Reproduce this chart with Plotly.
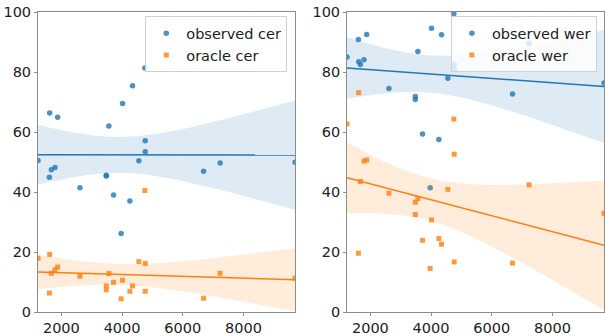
import numpy as np
import plotly.graph_objects as go

# ---- data ----
x_vals = [1230, 1605, 1615, 1670, 1790, 1878, 2612, 3480, 3480, 3566, 3720,
          3970, 4016, 4257, 4345, 4553, 4750, 4763, 4763, 6685, 7230, 9700]

observed_cer = [50.5, 44.9, 66.3, 47.4, 48.2, 64.9, 41.4, 45.6, 45.3, 62.0, 39.0,
                26.2, 69.5, 37.0, 75.4, 50.4, 81.3, 57.1, 53.4, 46.9, 49.7, 49.9]
oracle_cer = [17.9, 6.3, 19.2, 12.9, 14.1, 15.0, 11.9, 8.7, 7.4, 12.8, 9.9,
              4.4, 10.6, 6.9, 8.7, 16.8, 40.5, 16.2, 6.9, 4.6, 12.9, 11.3]

observed_wer = [85.0, 90.8, 83.4, 82.5, 84.1, 92.5, 74.5, 71.8, 70.8, 86.8, 59.3,
                41.4, 94.6, 57.5, 92.4, 77.9, 99.4, 81.0, 82.6, 72.7, 89.6, 76.3]
oracle_wer = [62.7, 19.6, 73.1, 43.5, 50.3, 50.7, 39.6, 36.6, 32.5, 37.8, 23.9,
              14.5, 30.7, 24.5, 22.6, 40.9, 64.3, 52.6, 16.7, 16.3, 42.4, 32.9]

panels = [
    ("observed cer", observed_cer, "oracle cer", oracle_cer),
    ("observed wer", observed_wer, "oracle wer", oracle_wer),
]

x_ticks = [2000, 4000, 6000, 8000]
y_ticks = [0, 20, 40, 60, 80, 100]

BLUE = "#1f77b4"
ORANGE = "#ff7f0e"
BLUE_FILL = "rgba(31,119,180,0.15)"
ORANGE_FILL = "rgba(255,127,14,0.15)"
T_CRIT = 2.086  # t(0.975, df=20)

FONT = "DejaVu Sans"


def fit_band(x, y):
    x = np.asarray(x, float)
    y = np.asarray(y, float)
    n = len(x)
    b, a = np.polyfit(x, y, 1)
    resid = y - (a + b * x)
    s = np.sqrt(np.sum(resid ** 2) / (n - 2))
    xm = x.mean()
    sxx = np.sum((x - xm) ** 2)
    grid = np.linspace(x.min(), x.max(), 100)
    yhat = a + b * grid
    se = s * np.sqrt(1.0 / n + (grid - xm) ** 2 / sxx)
    return grid, yhat, yhat - T_CRIT * se, yhat + T_CRIT * se


fig = go.Figure()

for i, (n1, y1, n2, y2) in enumerate(panels):
    xa = "x" if i == 0 else "x2"
    ya = "y" if i == 0 else "y2"
    leg = "legend" if i == 0 else "legend2"
    for name, yv, color, fill, sym in [(n1, y1, BLUE, BLUE_FILL, "circle"),
                                       (n2, y2, ORANGE, ORANGE_FILL, "square")]:
        fig.add_trace(go.Scatter(
            x=x_vals, y=yv, mode="markers", name=name,
            marker=dict(color=color, size=5.5 if sym == "circle" else 5, symbol=sym,
                        opacity=0.8, line=dict(width=0)),
            xaxis=xa, yaxis=ya, legend=leg, showlegend=True))
        g, yh, lo, hi = fit_band(x_vals, yv)
        fig.add_trace(go.Scatter(
            x=np.concatenate([g, g[::-1]]), y=np.concatenate([hi, lo[::-1]]),
            fill="toself", fillcolor=fill, line=dict(width=0), mode="lines",
            hoverinfo="skip", showlegend=False, xaxis=xa, yaxis=ya))
        fig.add_trace(go.Scatter(
            x=g, y=yh, mode="lines", line=dict(color=color, width=1.5),
            showlegend=False, xaxis=xa, yaxis=ya))

axis_common = dict(showline=True, linecolor="#8c8c8c", linewidth=1, mirror=True,
                   showgrid=False, zeroline=False, ticks="outside", ticklen=3,
                   tickcolor="#8c8c8c", tickfont=dict(family=FONT, size=14.5, color="#222"))

W = 566.7
fig.update_layout(
    width=605, height=336,
    margin=dict(l=38, r=0, t=12, b=17),
    paper_bgcolor="white", plot_bgcolor="white",
    font=dict(family=FONT, size=14.5, color="#222"),
    xaxis=dict(domain=[0, 257.4 / W], range=[1230, 9700], tickvals=x_ticks, **axis_common),
    yaxis=dict(range=[0, 100], tickvals=y_ticks, **axis_common),
    xaxis2=dict(domain=[(347.7 - 38.3) / W, 1], range=[1230, 9700], tickvals=x_ticks,
                anchor="y2", **axis_common),
    yaxis2=dict(range=[0, 100], tickvals=y_ticks, anchor="x2", **axis_common),
    legend=dict(x=0.1895, y=0.986, xanchor="left", yanchor="top",
                bgcolor="rgba(255,255,255,0.8)", bordercolor="#d0d0d0", borderwidth=1,
                font=dict(family=FONT, size=14.5, color="#222")),
    legend2=dict(x=0.7295, y=0.986, xanchor="left", yanchor="top",
                 bgcolor="rgba(255,255,255,0.8)", bordercolor="#d0d0d0", borderwidth=1,
                 font=dict(family=FONT, size=14.5, color="#222")),
    showlegend=True,
)

fig.write_html(
    "out.html",
    config={"displayModeBar": False},
    post_script="document.body.style.margin='0px';document.body.style.overflow='hidden';",
)
